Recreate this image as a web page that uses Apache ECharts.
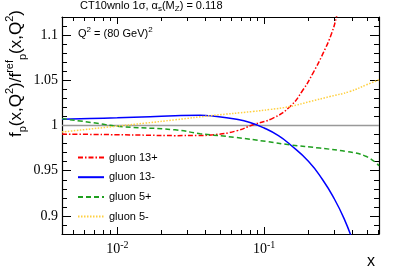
<!DOCTYPE html>
<html><head><meta charset="utf-8">
<script src="https://cdn.jsdelivr.net/npm/echarts@6/dist/echarts.min.js"></script>
<style>html,body{margin:0;padding:0;background:#fff}#c{width:399px;height:270px}</style>
</head><body><div id="c"></div>
<script>
// ---- data ----
const xMin = 0.0042, xMax = 0.605;
const yMin = 0.88, yMax = 1.12;
const seriesNames = ['gluon 13+', 'gluon 13-', 'gluon 5+', 'gluon 5-'];
const x13p = [0.0042, 0.0063, 0.01, 0.0158, 0.0247, 0.0355, 0.0448, 0.0649, 0.0838, 0.115, 0.150, 0.184, 0.215, 0.252, 0.288, 0.311, 0.33];
const y13p = [0.9905, 0.9902, 0.9898, 0.9893, 0.9888, 0.9889, 0.9897, 0.9941, 1.0008, 1.0082, 1.021, 1.0395, 1.058, 1.080, 1.102, 1.1206, 1.14];
const x13m = [0.0042, 0.0065, 0.01, 0.0167, 0.0247, 0.0366, 0.0448, 0.0649, 0.08, 0.1, 0.125, 0.15, 0.2, 0.25, 0.3, 0.35, 0.4];
const y13m = [1.0068, 1.0078, 1.0085, 1.0097, 1.0108, 1.0113, 1.0104, 1.0068, 1.0033, 0.9972, 0.9888, 0.979, 0.9605, 0.940, 0.919, 0.897, 0.873];
const x5p = [0.0042, 0.0071, 0.0104, 0.0247, 0.0366, 0.0649, 0.1038, 0.150, 0.239, 0.364, 0.497, 0.605];
const y5p = [1.0076, 1.0027, 0.999, 0.9952, 0.991, 0.9867, 0.9823, 0.9786, 0.975, 0.9712, 0.9657, 0.9555];
const x5m = [0.0042, 0.0096, 0.0155, 0.0247, 0.0448, 0.0838, 0.1094, 0.150, 0.205, 0.280, 0.383, 0.497, 0.605];
const y5m = [0.9928, 0.999, 1.0026, 1.0063, 1.0111, 1.0155, 1.0177, 1.021, 1.0265, 1.032, 1.0376, 1.045, 1.0506];
const xMajorTicks = [0.01, 0.1];
const xMajorLabels = ['-2', '-1'];
const xMinorTicks = [0.005, 0.006, 0.007, 0.008, 0.009, 0.02, 0.03, 0.04, 0.05, 0.06, 0.07, 0.08, 0.09, 0.2, 0.3, 0.4, 0.5, 0.6];
const yMajorTicks = [0.9, 0.95, 1, 1.05, 1.1];
const refLine = 1;

// ---- chart ----
const L = v => Math.log10(v);
const pts = (xs, ys) => xs.map((x, i) => [L(x), ys[i]]);
const colors = ['#ff0000', '#0000ff', '#1f9f1f', '#ffd040'];
const dashes = [[5, 2, 1.5, 2], 'solid', [5, 3], [1.5, 1.5]];
const datas = [pts(x13p, y13p), pts(x13m, y13m), pts(x5p, y5p), pts(x5m, y5m)];

const frame = { show: true, lineStyle: { color: '#000', width: 1.2 } };
function xAx(pos, major) {
  return {
    type: 'value', position: pos, min: L(xMin), max: L(xMax),
    axisLine: major ? frame : { show: false },
    splitLine: { show: false },
    axisTick: { show: true, inside: true, length: major ? 7 : 4, lineStyle: { color: '#000', width: 1 },
      customValues: (major ? xMajorTicks : xMinorTicks).map(L) },
    axisLabel: (major && pos === 'bottom') ? {
      show: true, customValues: xMajorTicks.map(L), margin: 6,
      formatter: v => '{b|10}{s|' + xMajorLabels[xMajorTicks.map(L).indexOf(v)] + '}',
      rich: { b: { fontFamily: 'Liberation Serif', fontSize: 14, color: '#000', lineHeight: 18 },
              s: { fontFamily: 'Liberation Serif', fontSize: 10, color: '#000', verticalAlign: 'top', lineHeight: 10 } }
    } : { show: false }
  };
}
function yAx(pos, major) {
  const o = {
    type: 'value', position: pos, min: yMin, max: yMax,
    axisLine: major ? frame : { show: false },
    splitLine: { show: false },
    axisTick: { show: true, inside: true, length: major ? 9 : 5, lineStyle: { color: '#000', width: 1 } },
    axisLabel: (major && pos === 'left') ? {
      show: true, customValues: yMajorTicks, margin: 4,
      fontFamily: 'Liberation Serif', fontSize: 14, color: '#000'
    } : { show: false }
  };
  if (major) o.axisTick.customValues = yMajorTicks; else o.interval = 0.01;
  return o;
}

const series = seriesNames.map((n, i) => ({
  name: n, type: 'line', xAxisIndex: 0, yAxisIndex: 0, data: datas[i],
  showSymbol: false, symbol: 'none', smooth: 0.5, clip: true,
  lineStyle: { color: colors[i], width: 1.5, type: dashes[i] },
  itemStyle: { color: colors[i] }, z: 3 + i
}));
series.unshift({
  type: 'line', xAxisIndex: 0, yAxisIndex: 0, data: [[L(xMin), refLine], [L(xMax), refLine]],
  symbol: 'none', lineStyle: { color: '#999', width: 1.5 }, silent: true, z: 2
});

const chart = echarts.init(document.getElementById('c'), null, { renderer: 'canvas' });
chart.setOption({
  animation: false,
  backgroundColor: '#fff',
  grid: { left: 62, right: 20, top: 17, bottom: 36 },
  xAxis: [xAx('bottom', true), xAx('bottom', false), xAx('top', true), xAx('top', false)],
  yAxis: [yAx('left', true), yAx('left', false), yAx('right', true), yAx('right', false)],
  legend: {
    data: seriesNames, orient: 'vertical', left: 72, top: 147,
    itemWidth: 26, itemHeight: 12, itemGap: 8.7,
    itemStyle: { opacity: 0 },
    textStyle: { fontFamily: 'Liberation Sans', fontSize: 11, color: '#000' }
  },
  graphic: [
    { type: 'text', left: 80, top: 0,
      style: { text: '{a|CT10wnlo 1σ, α}{s|s}{a|(M}{s|Z}{a|) = 0.118}',
        rich: { a: { fontFamily: 'Liberation Sans', fontSize: 11, color: '#000', lineHeight: 14 },
                s: { fontFamily: 'Liberation Sans', fontSize: 8, color: '#000', verticalAlign: 'bottom', lineHeight: 8 } } } },
    { type: 'text', left: 78, top: 26,
      style: { text: '{a|Q}{p|2}{a| = (80 GeV)}{p|2}',
        rich: { a: { fontFamily: 'Liberation Sans', fontSize: 11, color: '#000', lineHeight: 15 },
                p: { fontFamily: 'Liberation Sans', fontSize: 8, color: '#000', verticalAlign: 'top', lineHeight: 8 } } } },
    { type: 'text', x: 16, y: 10, rotation: Math.PI / 2,
      style: { text: '{a|f}{b|p}{a|(x,Q}{t|2}{a|)/f}{t|ref}{b|p}{a|(x,Q}{t|2}{a|)}',
        align: 'right', verticalAlign: 'middle',
        rich: { a: { fontFamily: 'Liberation Sans', fontSize: 17, color: '#000', lineHeight: 24 },
                t: { fontFamily: 'Liberation Sans', fontSize: 11, color: '#000', verticalAlign: 'top', lineHeight: 11 },
                b: { fontFamily: 'Liberation Sans', fontSize: 11, color: '#000', verticalAlign: 'bottom', lineHeight: 11 } } } },
    { type: 'text', left: 367, top: 254,
      style: { text: 'x', fontFamily: 'Liberation Sans', fontSize: 16, fill: '#000' } }
  ],
  series: series
});
</script></body></html>
